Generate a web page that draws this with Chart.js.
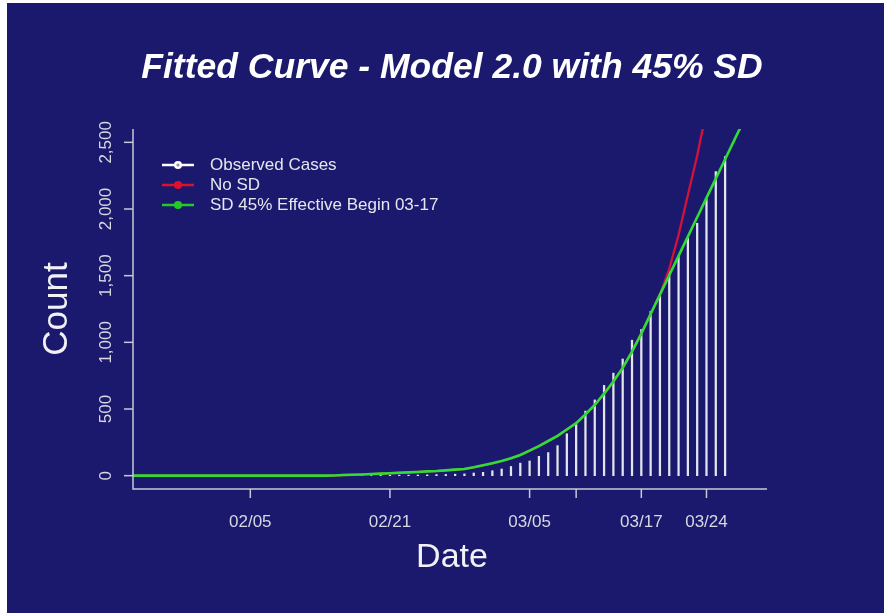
<!DOCTYPE html>
<html>
<head>
<meta charset="utf-8">
<script src="https://cdn.jsdelivr.net/npm/chart.js@4.4.1/dist/chart.umd.min.js"></script>
<style>
  html, body { margin: 0; padding: 0; background: #ffffff; }
  canvas { display: block; }
</style>
</head>
<body>
<canvas id="myChart" width="884" height="613"></canvas>
<script>
// days are counted from 03/05 (day 0)
var obsStart = -20;
var observed = [1, 1, 2, 2, 2, 3, 4, 4, 5, 6, 8, 9, 11, 13,
	20, 25, 37, 50, 69, 94, 110, 145, 173, 225, 314, 390, 484, 568,
	677, 769, 875, 1016, 1096, 1233, 1348, 1530, 1643, 1780, 1893, 2075, 2280, 2393];

var fitStart = -43;
var sd45 = [0, 0, 0, 0, 0, 0, 0, 0, 0, 0, 0, 0, 0, 0, 0, 0, 0, 0, 0, 0, 0, 0, 1,
	5, 7, 9, 12, 15, 18, 22, 25, 28, 32, 35, 40, 45, 50, 63, 78, 93, 110, 130, 155,
	188, 222, 260, 298, 346, 394, 460, 530, 615, 706, 808, 930, 1065, 1213, 1358,
	1503, 1648, 1793, 1938, 2083, 2228, 2373, 2518, 2663];
var noSD = [0, 0, 0, 0, 0, 0, 0, 0, 0, 0, 0, 0, 0, 0, 0, 0, 0, 0, 0, 0, 0, 0, 1,
	5, 7, 9, 12, 15, 18, 22, 25, 28, 32, 35, 40, 45, 50, 63, 78, 93, 110, 130, 155,
	188, 222, 260, 298, 346, 394, 460, 530, 615, 706, 808, 930, 1065, 1213, 1358,
	1550, 1805, 2105, 2400, 2740];

var xTicks = [-30, -15, 0, 5, 12, 19];
var xTickLabels = ['02/05', '02/21', '03/05', '', '03/17', '03/24'];
var yTicks = [0, 500, 1000, 1500, 2000, 2500];

var navy = '#1a196d',
	axisColor = '#c8c8d8',
	textColor = '#d8d8e2',
	font = '"Liberation Sans", Arial, sans-serif';

function toPoints(start, values){
	return values.map(function(v, i){ return {x: start + i, y: v}; });
}

var frame = {
	id: 'frame',
	beforeDraw: function(chart){
		var c = chart.ctx;
		c.save();
		c.fillStyle = '#ffffff';
		c.fillRect(0, 0, chart.width, chart.height);
		c.fillStyle = navy;
		c.fillRect(7, 3, chart.width - 7, chart.height - 3);
		c.restore();
	},
	afterDraw: function(chart){
		var c = chart.ctx,
			area = chart.chartArea,
			xs = chart.scales.x,
			ys = chart.scales.y,
			midX = (area.left + area.right) / 2;
		c.save();

		// L shaped box
		c.strokeStyle = axisColor;
		c.lineWidth = 1.5;
		c.beginPath();
		c.moveTo(area.left, area.top);
		c.lineTo(area.left, area.bottom);
		c.lineTo(area.right, area.bottom);
		c.stroke();

		c.fillStyle = textColor;
		c.font = '17px ' + font;
		c.textAlign = 'center';
		c.textBaseline = 'middle';

		yTicks.forEach(function(v){
			var py = ys.getPixelForValue(v);
			c.beginPath();
			c.moveTo(area.left, py);
			c.lineTo(area.left - 9, py);
			c.stroke();
			c.save();
			c.translate(area.left - 27, py);
			c.rotate(-Math.PI / 2);
			c.fillText(v.toLocaleString('en-US'), 0, 0);
			c.restore();
		});

		xTicks.forEach(function(d, i){
			var px = xs.getPixelForValue(d);
			c.beginPath();
			c.moveTo(px, area.bottom);
			c.lineTo(px, area.bottom + 9);
			c.stroke();
			if (xTickLabels[i]) c.fillText(xTickLabels[i], px, area.bottom + 33);
		});

		// titles
		c.fillStyle = '#ffffff';
		c.font = 'italic bold 35.5px ' + font;
		c.fillText('Fitted Curve - Model 2.0 with 45% SD', midX + 2, 68);
		c.fillStyle = '#f2f2f6';
		c.font = '34px ' + font;
		c.fillText('Date', midX + 2, 558);
		c.save();
		c.translate(57, (area.top + area.bottom) / 2);
		c.rotate(-Math.PI / 2);
		c.font = '35px ' + font;
		c.fillText('Count', 0, 0);
		c.restore();

		// legend
		var rows = [0, 1, 2];
		c.font = '17px ' + font;
		c.textAlign = 'left';
		rows.forEach(function(i){
			var ds = chart.data.datasets[i],
				col = ds.legendColor,
				y = 165 + i * 20;
			c.strokeStyle = col;
			c.lineWidth = 2.5;
			c.beginPath();
			c.moveTo(162, y);
			c.lineTo(194, y);
			c.stroke();
			c.fillStyle = col;
			c.beginPath();
			c.arc(178, y, 4, 0, Math.PI * 2);
			c.fill();
			c.fillStyle = i === 0 ? '#9090a8' : col;
			c.beginPath();
			c.arc(178, y, 1.6, 0, Math.PI * 2);
			c.fill();
			c.fillStyle = '#e6e6ee';
			c.fillText(ds.label, 210, y);
		});
		c.restore();
	}
};

var myChart = new Chart(document.getElementById('myChart'), {
	type: 'bar',
	data: {
		datasets: [{
			type: 'bar',
			label: 'Observed Cases',
			data: toPoints(obsStart, observed),
			backgroundColor: '#e4e4ee',
			legendColor: '#ffffff',
			barThickness: 1.6,
			order: 2
		}, {
			type: 'line',
			label: 'No SD',
			data: toPoints(fitStart, noSD),
			borderColor: '#d2123a',
			legendColor: '#e0102a',
			borderWidth: 2.3,
			pointRadius: 0,
			tension: 0,
			order: 1
		}, {
			type: 'line',
			label: 'SD 45% Effective Begin 03-17',
			data: toPoints(fitStart, sd45),
			borderColor: '#30dc38',
			legendColor: '#22cc22',
			borderWidth: 2.6,
			pointRadius: 0,
			tension: 0,
			order: 0
		}]
	},
	options: {
		responsive: false,
		animation: false,
		devicePixelRatio: 1,
		layout: { padding: { left: 133, right: 117, top: 129, bottom: 124 } },
		plugins: {
			legend: { display: false },
			tooltip: { enabled: false }
		},
		scales: {
			x: { type: 'linear', min: -42.6, max: 25.5, offset: false, display: false },
			y: { type: 'linear', min: -100, max: 2600, display: false }
		}
	},
	plugins: [frame]
});
</script>
</body>
</html>
